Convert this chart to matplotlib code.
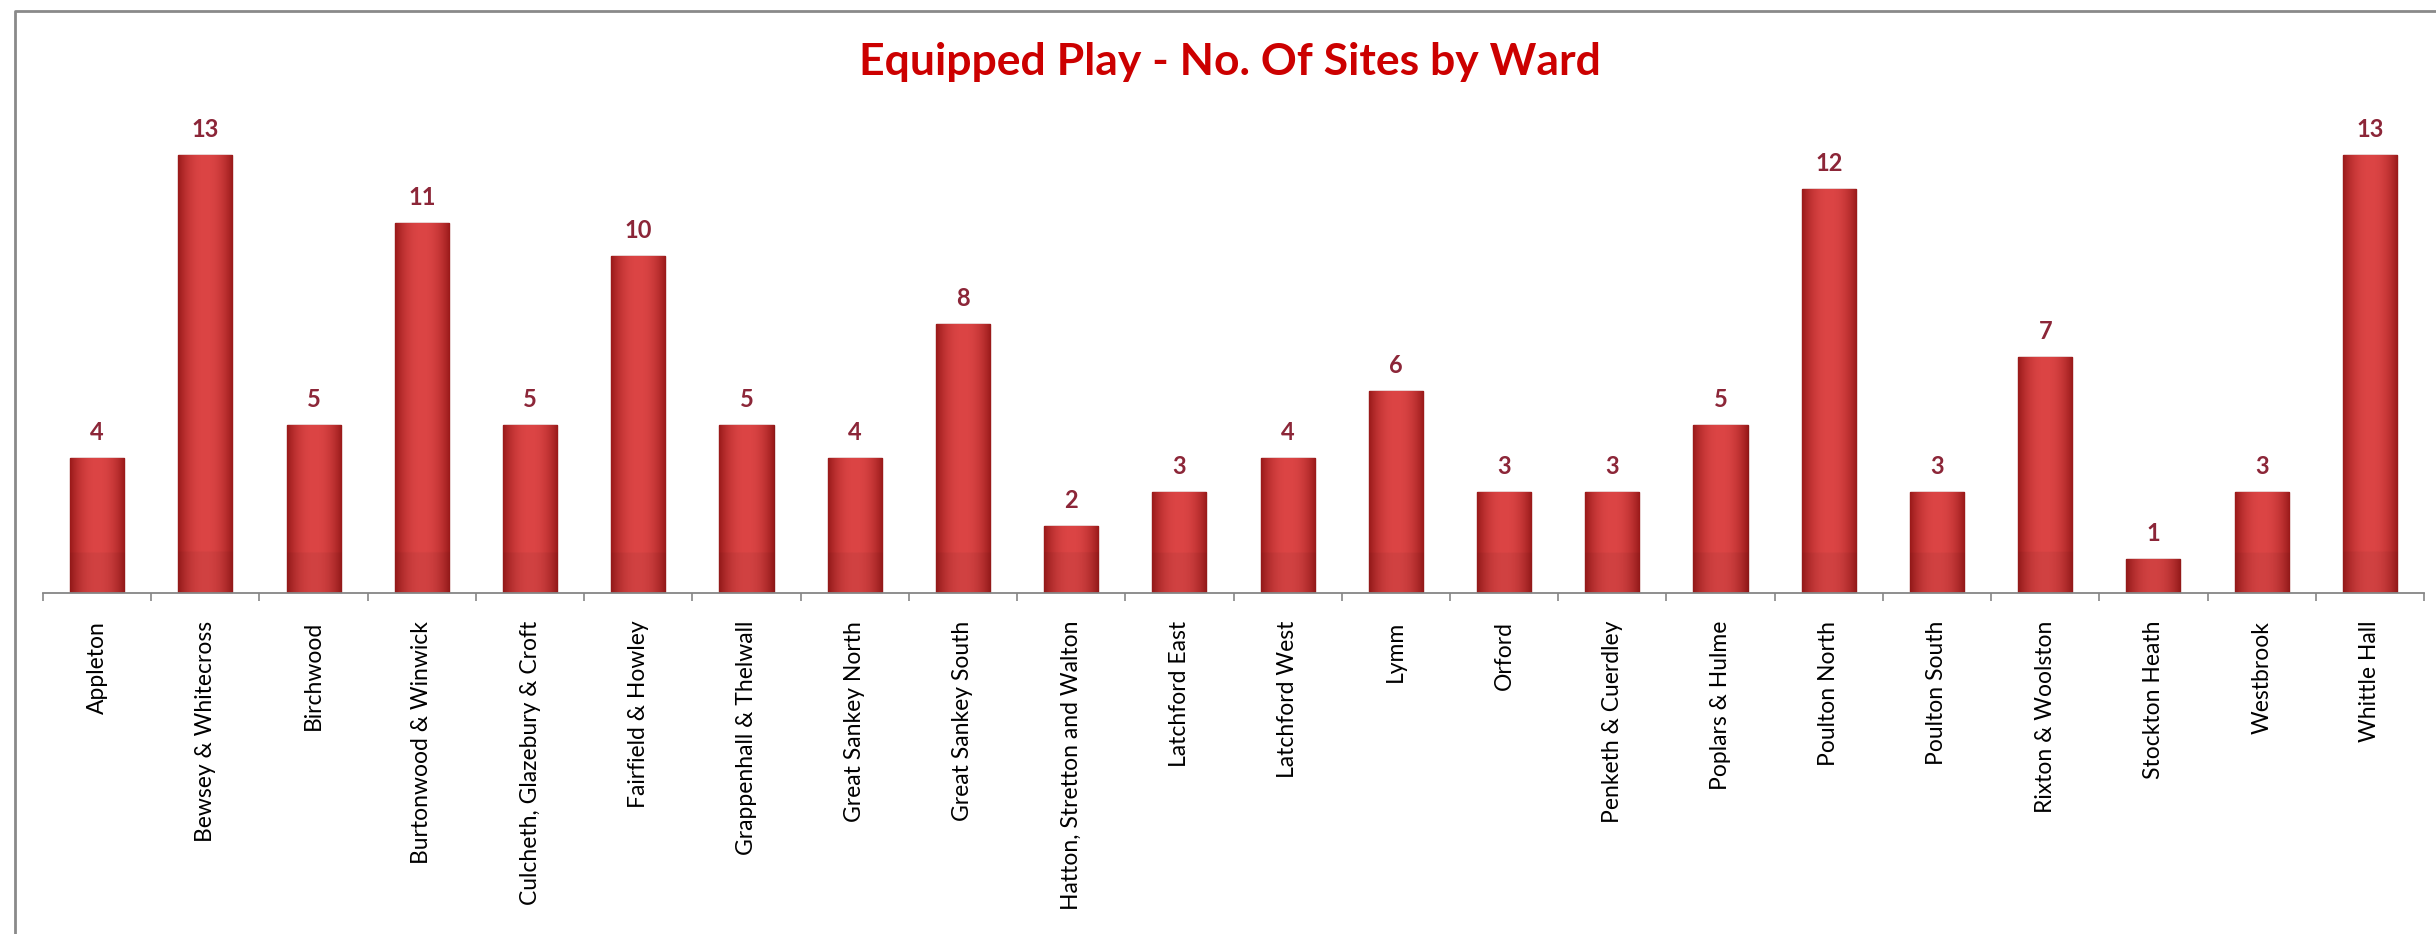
"""
Equipped Play - number of sites by ward (bar chart with shaded bars)
"""
import numpy as np
import matplotlib.pyplot as plt
from matplotlib.colors import to_rgb
from matplotlib.lines import Line2D

wards = [
    "Appleton", "Bewsey & Whitecross", "Birchwood", "Burtonwood & Winwick",
    "Culcheth, Glazebury & Croft", "Fairfield & Howley", "Grappenhall & Thelwall",
    "Great Sankey North", "Great Sankey South", "Hatton, Stretton and Walton",
    "Latchford East", "Latchford West", "Lymm", "Orford", "Penketh & Cuerdley",
    "Poplars & Hulme", "Poulton North", "Poulton South", "Rixton & Woolston",
    "Stockton Heath", "Westbrook", "Whittle Hall",
]
sites = [4, 13, 5, 11, 5, 10, 5, 4, 8, 2, 3, 4, 6, 3, 3, 5, 12, 3, 7, 1, 3, 13]

plt.rcParams['font.family'] = ['Lato', 'DejaVu Sans']

W, H = 2436, 934
fig = plt.figure(figsize=(W / 100, H / 100), dpi=100)
fig.patch.set_facecolor('white')

# axes placed to match the reference pixel layout
ax = fig.add_axes([43 / W, 1 - 593 / H, (2424 - 43) / W, (593 - 88) / H])
x = np.arange(len(wards))
bars = ax.bar(x, sites, width=0.5, color='#c83232', edgecolor='#8a1818',
              linewidth=1.0, zorder=2)

# gradient shading: dark edges, light centre, slightly darker lower band
edge_c = np.array(to_rgb('#9a1a1a'))
mid_c = np.array(to_rgb('#dc4545'))
u = np.linspace(0, 1, 80)
prof = 1 - np.abs(2 * u - 1) ** 2.2
for b, v in zip(bars, sites):
    ys = np.linspace(v, 0, 200)
    shade = np.where(ys < 1.2, 0.95, 1.0)
    img = edge_c[None, None, :] + (mid_c - edge_c)[None, None, :] * prof[None, :, None]
    img = img * shade[:, None, None]
    img = np.clip(img, 0, 1)
    x0 = b.get_x()
    im = ax.imshow(img, extent=(x0, x0 + b.get_width(), 0, v), aspect='auto',
                   zorder=2.5, interpolation='bilinear')
    im.set_clip_path(b)

for xi, v in zip(x, sites):
    ax.annotate(str(v), (xi, v), xytext=(0, 10), textcoords='offset points',
                ha='center', va='bottom', fontsize=17, fontweight='bold',
                color='#8c2638')

ax.set_xlim(-0.5, len(wards) - 0.5)
ax.set_ylim(0, 15)
for s in ['left', 'right', 'top']:
    ax.spines[s].set_visible(False)
ax.spines['bottom'].set_color('#868686')
ax.spines['bottom'].set_linewidth(1.3)
ax.set_yticks([])

ax.set_xticks(np.arange(-0.5, len(wards), 1))
ax.set_xticklabels([])
ax.tick_params(axis='x', which='major', length=6, width=1.2, color='#868686',
               direction='out')
ax.set_xticks(x, minor=True)
ax.set_xticklabels(wards, minor=True, rotation=90, fontsize=16.5, color='black',
                   va='top', ha='center')
ax.tick_params(axis='x', which='minor', length=0, pad=20)

fig.text(1230 / W, 1 - 62 / H, "Equipped Play - No. Of Sites by Ward",
         ha='center', va='center', fontsize=32, fontweight='bold',
         color='#cc0000')

# chart frame (only left and top edges visible in the reference)
fig.add_artist(Line2D([15 / W, 15 / W, 1.0], [0.0, 1 - 11 / H, 1 - 11 / H],
                      color='#8a8a8a', linewidth=2.0))

fig.savefig("out.png", dpi=100)
